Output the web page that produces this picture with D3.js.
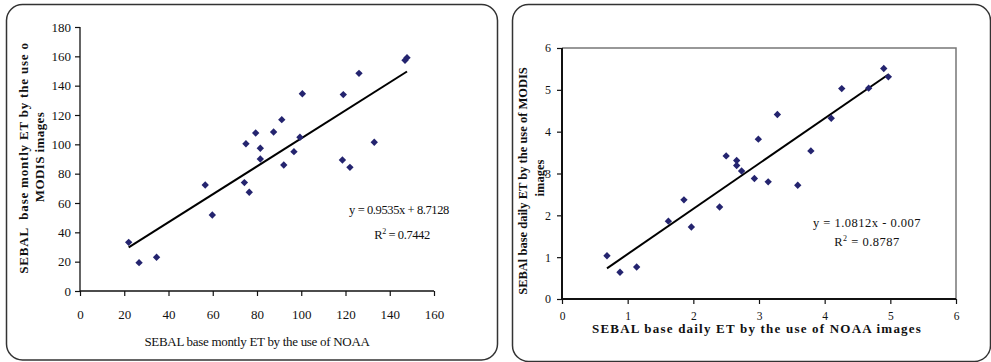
<!DOCTYPE html>
<html>
<head>
<meta charset="utf-8">
<script src="https://cdn.jsdelivr.net/npm/d3@7"></script>
<style>
	body { margin: 0; background: #fff; }
	svg text { font-family: 'Liberation Serif', 'Times New Roman', serif; fill: #111; }
</style>
</head>
<body>
<div id="chart"></div>
<script>
// Left chart: monthly ET
const monthlyNOAA = [22, 26.7, 34.6, 56.6, 59.8, 74.3, 75, 76.5, 79.4, 81.5, 81.5, 87.5, 91.2, 92.1, 96.7, 99.4, 100.5, 118.6, 119, 122, 126.1, 133, 146.9, 147.8];
const monthlyMODIS = [33.2, 19.3, 23, 72.3, 51.8, 73.9, 100.4, 67.3, 107.7, 97.3, 90, 108.4, 116.8, 85.9, 95, 104.8, 134.5, 89.3, 133.9, 84.3, 148.4, 101.4, 157.3, 159.1];
const monthlyTicks = [0, 20, 40, 60, 80, 100, 120, 140, 160];
const monthlyYTicks = [0, 20, 40, 60, 80, 100, 120, 140, 160, 180];
const monthlyFit = { slope: 0.9535, intercept: 8.7128 };

// Right chart: daily ET
const dailyNOAA = [0.685, 0.883, 1.137, 1.62, 1.857, 1.97, 2.4, 2.5, 2.66, 2.66, 2.735, 2.93, 3.14, 2.99, 3.28, 3.59, 3.79, 4.1, 4.26, 4.67, 4.9, 4.97];
const dailyMODIS = [1.035, 0.64, 0.765, 1.86, 2.37, 1.72, 2.2, 3.42, 3.31, 3.19, 3.06, 2.88, 2.8, 3.82, 4.41, 2.72, 3.54, 4.32, 5.03, 5.04, 5.51, 5.31];
const dailyTicks = [0, 1, 2, 3, 4, 5, 6];
const dailyFit = { slope: 1.0812, intercept: -0.007 };

const W = 991, H = 362;
const markerColor = '#24246f';

const svg = d3.select('#chart').append('svg')
	.attr('width', W)
	.attr('height', H);

// frames
svg.append('rect')
	.attr('x', 6.5).attr('y', 4.5).attr('width', 491).attr('height', 355.5)
	.attr('rx', 16).attr('ry', 16)
	.attr('fill', 'none').attr('stroke', '#333').attr('stroke-width', 1.5);
svg.append('rect')
	.attr('x', 512.5).attr('y', 4.5).attr('width', 478).attr('height', 357)
	.attr('rx', 16).attr('ry', 16)
	.attr('fill', 'none').attr('stroke', '#333').attr('stroke-width', 1.5);

const diamond = (g, pts) => {
	g.selectAll('rect.pt')
		.data(pts)
		.enter()
		.append('rect')
		.attr('class', 'pt')
		.attr('x', -2.6).attr('y', -2.6)
		.attr('width', 5.2).attr('height', 5.2)
		.attr('fill', markerColor)
		.attr('transform', d => 'translate(' + d[0] + ',' + d[1] + ') rotate(45)');
};

// ---------- left chart ----------
{
	const x = d3.scaleLinear().domain([0, 160]).range([80, 434]);
	const y = d3.scaleLinear().domain([0, 180]).range([291, 27]);
	const g = svg.append('g');

	const xAxis = d3.axisBottom(x).tickValues(monthlyTicks).tickSize(5).tickPadding(14);
	const yAxis = d3.axisLeft(y).tickValues(monthlyYTicks).tickSize(5).tickPadding(4);

	const ax = g.append('g').attr('transform', 'translate(0,' + y(0) + ')').call(xAxis);
	const ay = g.append('g').attr('transform', 'translate(' + x(0) + ',0)').call(yAxis);
	[ax, ay].forEach(a => {
		a.select('.domain').attr('stroke', '#111').attr('stroke-width', 1.3);
		a.selectAll('.tick line').attr('stroke', '#111').attr('stroke-width', 1.2);
		a.selectAll('text').attr('font-size', 13).attr('fill', '#111');
	});
	ax.selectAll('.domain').attr('d', 'M' + x(0) + ',0H' + x(160));
	ay.selectAll('.domain').attr('d', 'M0,' + y(0) + 'V' + y(180));

	const xs = d3.extent(monthlyNOAA);
	g.append('line')
		.attr('x1', x(xs[0])).attr('y1', y(monthlyFit.slope * xs[0] + monthlyFit.intercept))
		.attr('x2', x(xs[1])).attr('y2', y(monthlyFit.slope * xs[1] + monthlyFit.intercept))
		.attr('stroke', '#000').attr('stroke-width', 2);

	diamond(g, monthlyNOAA.map((v, i) => [x(v), y(monthlyMODIS[i])]));

	g.append('text')
		.attr('x', 399).attr('y', 214)
		.attr('text-anchor', 'middle').attr('font-size', 12.5).attr('letter-spacing', -0.4)
		.text('y = 0.9535x + 8.7128');
	const r2 = g.append('text')
		.attr('x', 402).attr('y', 239)
		.attr('text-anchor', 'middle').attr('font-size', 12.5).attr('letter-spacing', -0.4);
	r2.append('tspan').text('R');
	r2.append('tspan').attr('font-size', 8).attr('dy', -5).text('2');
	r2.append('tspan').attr('dy', 5).text(' = 0.7442');

	g.append('text')
		.attr('x', 257).attr('y', 346)
		.attr('text-anchor', 'middle').attr('font-size', 13).attr('letter-spacing', -0.3)
		.text('SEBAL base montly ET by the use of NOAA');

	g.append('text')
		.attr('transform', 'translate(28,158) rotate(-90)')
		.attr('text-anchor', 'middle').attr('font-size', 13).attr('font-weight', 'bold')
		.attr('letter-spacing', 0.8)
		.attr('xml:space', 'preserve')
		.text('SEBAL  base montly ET by the use o');
	g.append('text')
		.attr('transform', 'translate(44,157) rotate(-90)')
		.attr('text-anchor', 'middle').attr('font-size', 13).attr('font-weight', 'bold')
		.attr('letter-spacing', 0.4)
		.text('MODIS images');
}

// ---------- right chart ----------
{
	const x = d3.scaleLinear().domain([0, 6]).range([562, 956]);
	const y = d3.scaleLinear().domain([0, 6]).range([299, 48]);
	const g = svg.append('g');

	// plot area border (top / right)
	g.append('path')
		.attr('d', 'M' + x(0) + ',' + y(6) + 'H' + x(6) + 'V' + y(0))
		.attr('fill', 'none').attr('stroke', '#777').attr('stroke-width', 1.5);

	const fmt = d3.format('d');
	const xAxis = d3.axisBottom(x).tickValues(dailyTicks).tickFormat(fmt).tickSize(5).tickPadding(8);
	const yAxis = d3.axisLeft(y).tickValues(dailyTicks).tickFormat(fmt).tickSize(5).tickPadding(6);

	const ax = g.append('g').attr('transform', 'translate(0,' + y(0) + ')').call(xAxis);
	const ay = g.append('g').attr('transform', 'translate(' + x(0) + ',0)').call(yAxis);
	[ax, ay].forEach(a => {
		a.select('.domain').attr('stroke', '#111').attr('stroke-width', 2);
		a.selectAll('.tick line').attr('stroke', '#111').attr('stroke-width', 1.2);
		a.selectAll('text').attr('font-size', 12).attr('fill', '#222');
	});
	ax.selectAll('text').attr('font-size', 11.5);
	ax.selectAll('.domain').attr('d', 'M' + x(0) + ',0H' + x(6));
	ay.selectAll('.domain').attr('d', 'M0,' + y(0) + 'V' + y(6));

	const xs = d3.extent(dailyNOAA);
	g.append('line')
		.attr('x1', x(xs[0])).attr('y1', y(dailyFit.slope * xs[0] + dailyFit.intercept))
		.attr('x2', x(xs[1])).attr('y2', y(dailyFit.slope * xs[1] + dailyFit.intercept))
		.attr('stroke', '#000').attr('stroke-width', 2);

	diamond(g, dailyNOAA.map((v, i) => [x(v), y(dailyMODIS[i])]));

	g.append('text')
		.attr('x', 867).attr('y', 227)
		.attr('text-anchor', 'middle').attr('font-size', 12.5).attr('letter-spacing', 0.5)
		.text('y = 1.0812x - 0.007');
	const r2 = g.append('text')
		.attr('x', 867).attr('y', 246)
		.attr('text-anchor', 'middle').attr('font-size', 12.5).attr('letter-spacing', 0.5);
	r2.append('tspan').text('R');
	r2.append('tspan').attr('font-size', 8).attr('dy', -5).text('2');
	r2.append('tspan').attr('dy', 5).text(' = 0.8787');

	g.append('text')
		.attr('x', 757).attr('y', 333)
		.attr('text-anchor', 'middle').attr('font-size', 13).attr('font-weight', 'bold')
		.attr('letter-spacing', 1.2)
		.text('SEBAL base daily ET by the use of NOAA images');

	g.append('text')
		.attr('transform', 'translate(527,181) rotate(-90)')
		.attr('text-anchor', 'middle').attr('font-size', 12.5).attr('font-weight', 'bold')
		.text('SEBAl base daily ET by the use of MODIS');
	g.append('text')
		.attr('transform', 'translate(544,178) rotate(-90)')
		.attr('text-anchor', 'middle').attr('font-size', 12.5).attr('font-weight', 'bold')
		.text('images');
}
</script>
</body>
</html>
